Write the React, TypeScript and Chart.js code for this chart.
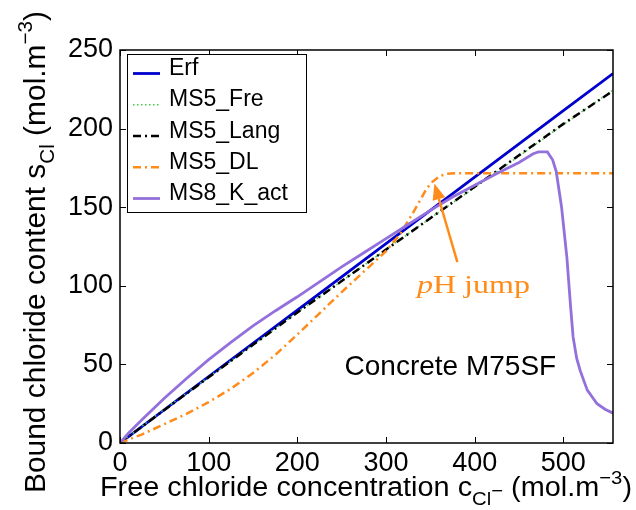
import React, { useEffect, useRef } from "react";
import { Chart, registerables } from "chart.js";

Chart.register(...registerables);

const SANS = "'Liberation Sans', Arial, Helvetica, sans-serif";
const SERIF = "'Liberation Serif', 'DejaVu Serif', 'Times New Roman', serif";

// ---- axes ----
const xMin = 0;
const xMax = 556;
const yMin = 0;
const yMax = 250;
const xTickValues = [0, 100, 200, 300, 400, 500];
const yTickValues = [0, 50, 100, 150, 200, 250];

// ---- series ----
const seriesLabels = ["Erf", "MS5_Fre", "MS5_Lang", "MS5_DL", "MS8_K_act"];

const erfX = [0, 100, 200, 300, 400, 500, 556];
const erfY = [0, 42.3, 84.5, 126.8, 169.1, 211.4, 235];

const freX = [0, 50, 100, 150, 200, 250, 300, 350, 400, 450, 500, 556];
const freY = [0, 21.5, 42, 62.5, 83, 103, 123, 143, 162.5, 182.5, 202.5, 224.5];

const langX = [0, 50, 100, 150, 200, 250, 300, 350, 400, 450, 500, 556];
const langY = [0, 21, 41.8, 62.5, 83, 103, 123, 143, 163, 183, 203, 224];

const dlX = [0, 25, 50, 75, 100, 125, 150, 175, 200, 225, 250, 275, 300, 316, 330, 340, 346, 352, 360, 368, 380, 450, 556];
const dlY = [0, 5.5, 12, 18.5, 26, 34.5, 44.5, 56, 69, 82.5, 96, 109, 122, 133, 146, 156, 162, 166, 169.5, 171.2, 171.6, 171.6, 171.6];

const kactX = [0, 10, 25, 50, 75, 100, 125, 150, 175, 200, 225, 250, 275, 300, 325, 350, 375, 400, 425, 450, 466, 472, 482, 488, 492, 498, 504, 508, 511, 515, 519, 527, 538, 547, 556];
const kactY = [0, 6.5, 15, 28.5, 41, 53, 64, 74.5, 84, 93, 102.5, 112, 121, 130, 139, 148, 156.5, 164, 171.5, 178.5, 184, 185.2, 185.2, 180, 172.6, 150, 118, 88, 67.5, 54, 46, 33.6, 25, 21.5, 19];

// ---- styles (not data) ----
const seriesStyles = [
  { color: "#0000cd", width: 2.8, dash: [] as number[] },
  { color: "#44cc44", width: 1.5, dash: [1.5, 2.5] },
  { color: "#000000", width: 2.5, dash: [8, 4, 2, 4] },
  { color: "#ff8c1a", width: 2.5, dash: [8, 4, 2, 4] },
  { color: "#9370db", width: 2.8, dash: [] as number[] },
];

// ---- annotations (data coordinates) ----
const arrowTail = { x: 380.5, y: 115 };
const arrowTip = { x: 354.6, y: 165 };
const phLabelPos = { x: 398.6, y: 95.4 };
const concreteLabelPos = { x: 372.6, y: 43.3 };

type Seg = { t: string; size: number; dy: number; font?: string; style?: string };

function measureSegs(ctx: CanvasRenderingContext2D, segs: Seg[]) {
  return segs.map((s) => {
    ctx.font = `${s.style || ""} ${s.size}px ${s.font || SANS}`;
    return ctx.measureText(s.t).width;
  });
}

function drawRich(
  ctx: CanvasRenderingContext2D,
  segs: Seg[],
  align: "left" | "center",
  targetWidth?: number
) {
  const widths = measureSegs(ctx, segs);
  const w = widths.reduce((a, b) => a + b, 0);
  const sx = targetWidth ? targetWidth / w : 1;
  ctx.save();
  ctx.scale(sx, 1);
  let cx = align === "center" ? -w / 2 : 0;
  ctx.textAlign = "left";
  ctx.textBaseline = "alphabetic";
  segs.forEach((s, i) => {
    ctx.font = `${s.style || ""} ${s.size}px ${s.font || SANS}`;
    ctx.fillText(s.t, cx, s.dy);
    cx += widths[i];
  });
  ctx.restore();
}

const overlayPlugin = {
  id: "overlay",
  afterDatasetsDraw(chart: any) {
    const ctx: CanvasRenderingContext2D = chart.ctx;
    const { left, right, top, bottom } = chart.chartArea;
    const xs = chart.scales.x;
    const ys = chart.scales.y;

    // axes box and inward ticks
    ctx.save();
    ctx.strokeStyle = "#000";
    ctx.lineWidth = 1.5;
    ctx.setLineDash([]);
    ctx.strokeRect(left, top, right - left, bottom - top);
    const tl = 6;
    ctx.lineWidth = 1;
    ctx.beginPath();
    xTickValues.forEach((v) => {
      const px = Math.round(xs.getPixelForValue(v)) + 0.5;
      ctx.moveTo(px, bottom);
      ctx.lineTo(px, bottom - tl);
      ctx.moveTo(px, top);
      ctx.lineTo(px, top + tl);
    });
    yTickValues.forEach((v) => {
      const py = Math.round(ys.getPixelForValue(v)) + 0.5;
      ctx.moveTo(left, py);
      ctx.lineTo(left + tl, py);
      ctx.moveTo(right, py);
      ctx.lineTo(right - tl, py);
    });
    ctx.stroke();

    // legend
    const lx = 127, ly = 54, lw = 179, lh = 158;
    ctx.fillStyle = "#fff";
    ctx.fillRect(lx, ly, lw, lh);
    ctx.strokeStyle = "#000";
    ctx.lineWidth = 1;
    ctx.strokeRect(lx + 0.5, ly + 0.5, lw, lh);
    seriesLabels.forEach((label, i) => {
      const base = 75 + 31.25 * i;
      const st = seriesStyles[i];
      ctx.strokeStyle = st.color;
      ctx.lineWidth = st.width;
      ctx.setLineDash(st.dash);
      ctx.beginPath();
      ctx.moveTo(133, base - 1.5);
      ctx.lineTo(160, base - 1.5);
      ctx.stroke();
      ctx.setLineDash([]);
      ctx.fillStyle = "#000";
      ctx.font = `23px ${SANS}`;
      ctx.textAlign = "left";
      ctx.textBaseline = "alphabetic";
      ctx.fillText(label, 169, base);
    });

    // arrow
    const tx = xs.getPixelForValue(arrowTail.x), ty = ys.getPixelForValue(arrowTail.y);
    const hx = xs.getPixelForValue(arrowTip.x), hy = ys.getPixelForValue(arrowTip.y);
    const ang = Math.atan2(hy - ty, hx - tx);
    const headLen = 16, headW = 6.5;
    const bx = hx - headLen * Math.cos(ang), by = hy - headLen * Math.sin(ang);
    ctx.strokeStyle = "#ff8c1a";
    ctx.fillStyle = "#ff8c1a";
    ctx.lineWidth = 2.5;
    ctx.beginPath();
    ctx.moveTo(tx, ty);
    ctx.lineTo(bx, by);
    ctx.stroke();
    ctx.beginPath();
    ctx.moveTo(hx, hy);
    ctx.lineTo(bx + headW * Math.sin(ang), by - headW * Math.cos(ang));
    ctx.lineTo(bx - headW * Math.sin(ang), by + headW * Math.cos(ang));
    ctx.closePath();
    ctx.fill();

    // pH jump label
    ctx.save();
    ctx.translate(xs.getPixelForValue(phLabelPos.x), ys.getPixelForValue(phLabelPos.y));
    ctx.fillStyle = "#ff8c1a";
    drawRich(
      ctx,
      [
        { t: "p", size: 26, dy: 0, font: SERIF, style: "italic" },
        { t: "H jump", size: 26, dy: 0, font: SERIF },
      ],
      "center",
      113
    );
    ctx.restore();

    // Concrete label
    ctx.fillStyle = "#000";
    ctx.font = `28px ${SANS}`;
    ctx.textAlign = "center";
    ctx.textBaseline = "alphabetic";
    ctx.fillText(
      "Concrete M75SF",
      xs.getPixelForValue(concreteLabelPos.x),
      ys.getPixelForValue(concreteLabelPos.y)
    );

    // x axis title
    ctx.save();
    ctx.translate(100, 496);
    ctx.fillStyle = "#000";
    drawRich(
      ctx,
      [
        { t: "Free chloride concentration c", size: 27, dy: 0 },
        { t: "Cl", size: 19, dy: 9 },
        { t: "\u2212", size: 19, dy: 1 },
        { t: " (mol.m", size: 27, dy: 0 },
        { t: "\u22123", size: 19, dy: -12 },
        { t: ")", size: 27, dy: 0 },
      ],
      "left",
      532
    );
    ctx.restore();

    // y axis title
    ctx.save();
    ctx.translate(45, 493);
    ctx.rotate(-Math.PI / 2);
    ctx.fillStyle = "#000";
    drawRich(
      ctx,
      [
        { t: "Bound chloride content s", size: 29, dy: 0 },
        { t: "Cl", size: 20, dy: 9 },
        { t: " (mol.m", size: 29, dy: 0 },
        { t: "\u22123", size: 20, dy: -13 },
        { t: ")", size: 29, dy: 0 },
      ],
      "left",
      482
    );
    ctx.restore();

    ctx.restore();
  },
};

function toPoints(xs: number[], ys: number[]) {
  return xs.map((x, i) => ({ x, y: ys[i] }));
}

export default function App() {
  const ref = useRef<HTMLCanvasElement | null>(null);

  useEffect(() => {
    if (!ref.current) return;
    const xsArr = [erfX, freX, langX, dlX, kactX];
    const ysArr = [erfY, freY, langY, dlY, kactY];
    const chart = new Chart(ref.current, {
      type: "line",
      data: {
        datasets: seriesLabels.map((label, i) => ({
          label,
          data: toPoints(xsArr[i], ysArr[i]),
          borderColor: seriesStyles[i].color,
          borderWidth: seriesStyles[i].width,
          borderDash: seriesStyles[i].dash,
          pointRadius: 0,
          fill: false,
          tension: 0,
          order: seriesLabels.length - i,
        })),
      },
      options: {
        animation: false,
        responsive: false,
        events: [],
        layout: { padding: { top: 50, right: 23, left: 0, bottom: 0 } },
        plugins: { legend: { display: false }, tooltip: { enabled: false } },
        scales: {
          x: {
            type: "linear",
            min: xMin,
            max: xMax,
            afterBuildTicks: (s: any) => {
              s.ticks = xTickValues.map((v) => ({ value: v }));
            },
            afterFit: (s: any) => {
              s.height = 67;
            },
            grid: { display: false, drawTicks: false },
            border: { display: false },
            ticks: {
              color: "#000",
              font: { family: SANS, size: 27 },
              padding: 4,
              maxRotation: 0,
              autoSkip: false,
            },
          },
          y: {
            type: "linear",
            min: yMin,
            max: yMax,
            afterBuildTicks: (s: any) => {
              s.ticks = yTickValues.map((v) => ({ value: v }));
            },
            afterFit: (s: any) => {
              s.width = 120;
            },
            grid: { display: false, drawTicks: false },
            border: { display: false },
            ticks: {
              color: "#000",
              font: { family: SANS, size: 27 },
              padding: 7,
              autoSkip: false,
            },
          },
        },
      },
      plugins: [overlayPlugin],
    });
    return () => chart.destroy();
  }, []);

  return (
    <div style={{ position: "fixed", left: 0, top: 0, width: 636, height: 510, background: "#fff" }}>
      <canvas ref={ref} width={636} height={510} />
    </div>
  );
}
